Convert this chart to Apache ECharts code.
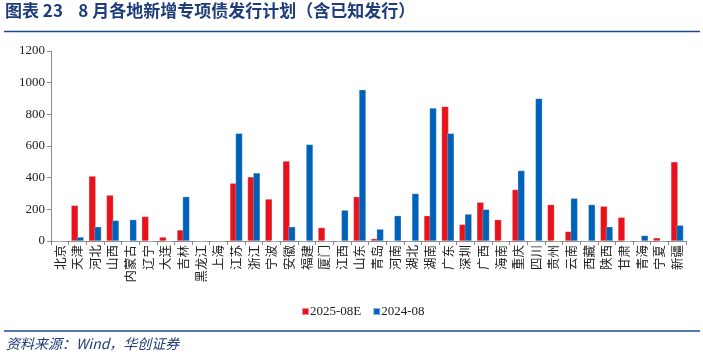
<!DOCTYPE html>
<html>
<head>
<meta charset="utf-8">
<script src="https://cdn.jsdelivr.net/npm/echarts@6/dist/echarts.min.js"></script>
<style>
  html, body { margin: 0; padding: 0; background: #fff; }
  #chart { width: 703px; height: 358px; }
</style>
</head>
<body>
<div id="chart"></div>
<script>
// 地区
const regions = ['北京', '天津', '河北', '山西', '内蒙古', '辽宁', '大连', '吉林', '黑龙江', '上海',
  '江苏', '浙江', '宁波', '安徽', '福建', '厦门', '江西', '山东', '青岛', '河南', '湖北', '湖南',
  '广东', '深圳', '广西', '海南', '重庆', '四川', '贵州', '云南', '西藏', '陕西', '甘肃', '青海',
  '宁夏', '新疆']
// 2025-08E 计划
const plan2025 = [0, 225, 410, 290, 0, 155, 25, 70, 0, 0,
  365, 405, 265, 505, 0, 85, 0, 280, 15, 0, 0, 160,
  850, 105, 245, 135, 325, 0, 230, 60, 0, 220, 150, 0,
  20, 500]
// 2024-08 实际
const actual2024 = [0, 25, 90, 130, 135, 0, 0, 280, 0, 0,
  680, 430, 0, 90, 610, 0, 195, 955, 75, 160, 300, 840,
  680, 170, 200, 0, 445, 900, 0, 270, 230, 90, 0, 35,
  0, 100]
const seriesNames = ['2025-08E', '2024-08']
const yTicks = { min: 0, max: 1200, interval: 200 }

const titleColor = '#1f3d7a'
const lineColor = '#1b4a8a'

let myChart = echarts.init(document.getElementById('chart'))

let option = {
  animation: false,
  grid: { left: 51, right: 17, top: 51, bottom: 117 },
  legend: {
    data: seriesNames,
    left: 296,
    top: 300,
    itemWidth: 7,
    itemHeight: 7,
    itemGap: 11,
    icon: 'rect',
    textStyle: { fontFamily: 'Liberation Serif', fontSize: 13, color: '#222', padding: [0, 0, 0, -4] }
  },
  xAxis: {
    type: 'category',
    data: regions,
    axisLine: { lineStyle: { color: '#8a8a8a' } },
    axisTick: { show: true, length: 4, lineStyle: { color: '#8a8a8a' } },
    axisLabel: {
      interval: 0,
      rotate: 90,
      margin: 4,
      fontFamily: 'Noto Sans CJK SC',
      fontSize: 12.5,
      color: '#222'
    }
  },
  yAxis: {
    type: 'value',
    min: yTicks.min,
    max: yTicks.max,
    interval: yTicks.interval,
    splitLine: { show: false },
    axisLine: { show: true, lineStyle: { color: '#8a8a8a' } },
    axisTick: { show: true, length: 4, lineStyle: { color: '#8a8a8a' } },
    axisLabel: {
      fontFamily: 'Liberation Serif', fontSize: 13, color: '#222', margin: 6,
      formatter: v => String(v)
    }
  },
  series: [
    {
      name: seriesNames[0],
      type: 'bar',
      data: plan2025,
      barWidth: 7,
      barGap: '-20%',
      itemStyle: { color: '#e8121c', borderColor: 'rgba(255,255,255,0.5)', borderWidth: 0.5 }
    },
    {
      name: seriesNames[1],
      type: 'bar',
      data: actual2024,
      barWidth: 7,
      itemStyle: { color: '#0061b8', borderColor: 'rgba(255,255,255,0.5)', borderWidth: 0.5 }
    }
  ],
  graphic: [
    {
      type: 'text', left: 5, top: 2,
      style: {
        text: '图表 23    8 月各地新增专项债发行计划（含已知发行）',
        fill: titleColor,
        font: 'bold 17px "Noto Sans CJK SC"'
      }
    },
    {
      type: 'line',
      shape: { x1: 4, y1: 31.5, x2: 700, y2: 31.5 },
      style: { stroke: lineColor, lineWidth: 1.5 }
    },
    {
      type: 'line',
      shape: { x1: 4, y1: 331, x2: 700, y2: 331 },
      style: { stroke: lineColor, lineWidth: 1.5 }
    },
    {
      type: 'text', left: 6, top: 337,
      style: {
        text: '资料来源：Wind，华创证券',
        fill: titleColor,
        font: 'italic 14px "Noto Sans CJK SC"'
      }
    }
  ]
}

myChart.setOption(option)
</script>
</body>
</html>
